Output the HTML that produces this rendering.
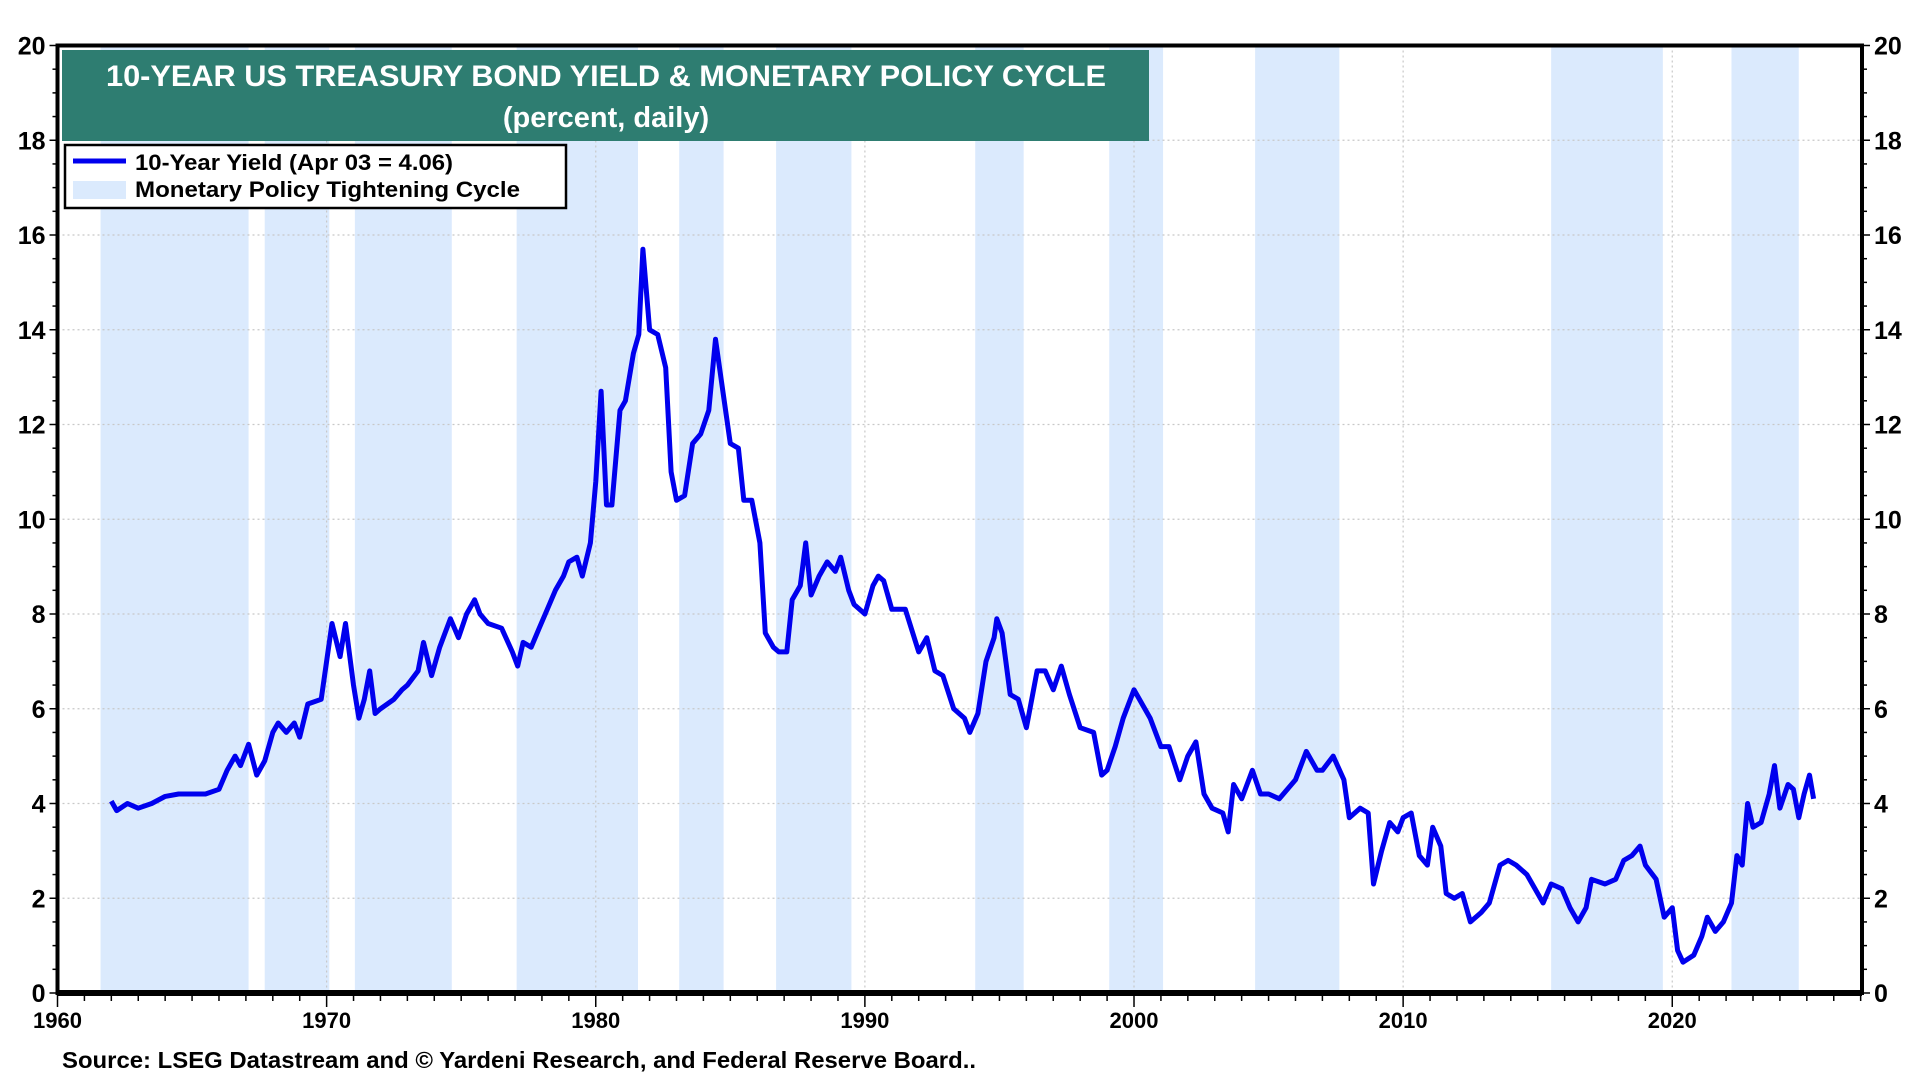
<!DOCTYPE html>
<html><head><meta charset="utf-8"><style>
html,body{margin:0;padding:0;background:#fff;}
svg{display:block;font-family:"Liberation Sans",Arial,sans-serif;font-weight:bold;}
</style></head><body>
<svg id="chart" width="1920" height="1080" viewBox="0 0 1920 1080"></svg>
<script>
const yTicks=[0,2,4,6,8,10,12,14,16,18,20];
const xTicks=[1960,1970,1980,1990,2000,2010,2020];
const bandStart=[1961.6,1967.7,1971.05,1977.06,1983.1,1986.7,1994.1,1999.08,2004.5,2015.5,2022.2];
const bandEnd=[1967.1,1970.1,1974.65,1981.57,1984.75,1989.5,1995.9,2001.08,2007.63,2019.65,2024.7];
const years=[1962.0,1962.2,1962.6,1963,1963.5,1964,1964.5,1965,1965.5,1966,1966.3,1966.6,1966.8,1967.1,1967.4,1967.7,1968,1968.2,1968.5,1968.8,1969,1969.3,1969.8,1970.0,1970.2,1970.5,1970.7,1971.0,1971.2,1971.4,1971.6,1971.8,1972,1972.5,1972.8,1973.0,1973.4,1973.6,1973.9,1974.2,1974.6,1974.9,1975.2,1975.5,1975.7,1976,1976.5,1976.9,1977.1,1977.3,1977.6,1977.9,1978.2,1978.5,1978.8,1979,1979.3,1979.5,1979.8,1980.0,1980.2,1980.4,1980.6,1980.9,1981.1,1981.4,1981.6,1981.75,1982.0,1982.3,1982.6,1982.8,1983.0,1983.3,1983.6,1983.9,1984.2,1984.45,1984.7,1985.0,1985.3,1985.5,1985.8,1986.1,1986.3,1986.6,1986.8,1987.1,1987.3,1987.6,1987.8,1988.0,1988.3,1988.6,1988.9,1989.1,1989.4,1989.6,1990.0,1990.3,1990.5,1990.7,1991.0,1991.5,1992.0,1992.3,1992.6,1992.9,1993.3,1993.7,1993.9,1994.2,1994.5,1994.8,1994.9,1995.1,1995.4,1995.7,1996.0,1996.4,1996.7,1997.0,1997.3,1997.6,1998.0,1998.5,1998.8,1999.0,1999.3,1999.6,2000.0,2000.3,2000.6,2001.0,2001.3,2001.7,2002.0,2002.3,2002.6,2002.9,2003.3,2003.5,2003.7,2004.0,2004.4,2004.7,2005.0,2005.4,2005.7,2006.0,2006.4,2006.8,2007.0,2007.4,2007.8,2008.0,2008.4,2008.7,2008.9,2009.2,2009.5,2009.8,2010.0,2010.3,2010.6,2010.9,2011.1,2011.4,2011.6,2011.9,2012.2,2012.5,2012.9,2013.2,2013.6,2013.9,2014.2,2014.6,2014.9,2015.2,2015.5,2015.9,2016.2,2016.5,2016.8,2017.0,2017.5,2017.9,2018.2,2018.5,2018.8,2019.0,2019.4,2019.7,2020.0,2020.2,2020.4,2020.8,2021.1,2021.3,2021.6,2021.9,2022.2,2022.4,2022.6,2022.8,2023.0,2023.3,2023.6,2023.8,2024.0,2024.3,2024.5,2024.7,2024.9,2025.1,2025.25];
const yields=[4.05,3.85,4.0,3.9,4.0,4.15,4.2,4.2,4.2,4.3,4.7,5.0,4.8,5.25,4.6,4.9,5.5,5.7,5.5,5.7,5.4,6.1,6.2,7.0,7.8,7.1,7.8,6.5,5.8,6.2,6.8,5.9,6.0,6.2,6.4,6.5,6.8,7.4,6.7,7.3,7.9,7.5,8.0,8.3,8.0,7.8,7.7,7.2,6.9,7.4,7.3,7.7,8.1,8.5,8.8,9.1,9.2,8.8,9.5,10.8,12.7,10.3,10.3,12.3,12.5,13.5,13.9,15.7,14.0,13.9,13.2,11.0,10.4,10.5,11.6,11.8,12.3,13.8,12.8,11.6,11.5,10.4,10.4,9.5,7.6,7.3,7.2,7.2,8.3,8.6,9.5,8.4,8.8,9.1,8.9,9.2,8.5,8.2,8.0,8.6,8.8,8.7,8.1,8.1,7.2,7.5,6.8,6.7,6.0,5.8,5.5,5.9,7.0,7.5,7.9,7.6,6.3,6.2,5.6,6.8,6.8,6.4,6.9,6.3,5.6,5.5,4.6,4.7,5.2,5.8,6.4,6.1,5.8,5.2,5.2,4.5,5.0,5.3,4.2,3.9,3.8,3.4,4.4,4.1,4.7,4.2,4.2,4.1,4.3,4.5,5.1,4.7,4.7,5.0,4.5,3.7,3.9,3.8,2.3,3.0,3.6,3.4,3.7,3.8,2.9,2.7,3.5,3.1,2.1,2.0,2.1,1.5,1.7,1.9,2.7,2.8,2.7,2.5,2.2,1.9,2.3,2.2,1.8,1.5,1.8,2.4,2.3,2.4,2.8,2.9,3.1,2.7,2.4,1.6,1.8,0.9,0.65,0.8,1.2,1.6,1.3,1.5,1.9,2.9,2.7,4.0,3.5,3.6,4.2,4.8,3.9,4.4,4.3,3.7,4.2,4.6,4.1];

const L=57.5,R=1862,T=45.5,B=993,X0=1960,X1=2027.05;
const xs=v=>L+(v-X0)/(X1-X0)*(R-L);
const ys=v=>B-v/20*(B-T);
const NS="http://www.w3.org/2000/svg";
const svg=document.getElementById('chart');
function mk(tag,attrs,parent){const e=document.createElementNS(NS,tag);for(const k in attrs)e.setAttribute(k,attrs[k]);(parent||svg).appendChild(e);return e;}

const gB=mk('g',{});


bandStart.forEach((s,i)=>{
  const r=mk('rect',{x:xs(s),y:T,width:xs(bandEnd[i])-xs(s),height:B-T,fill:'#dbeafd'},gB);
  
  
});
const gG=mk('g',{stroke:'#c8c8c8','stroke-width':1.2,'stroke-dasharray':'2,3'});


yTicks.forEach(v=>{if(v>0&&v<20)mk('line',{x1:L,x2:R,y1:ys(v),y2:ys(v)},gG);});
xTicks.forEach(v=>{if(v>1960)mk('line',{x1:xs(v),x2:xs(v),y1:T,y2:B},gG);});

let d='';years.forEach((y,i)=>{d+=(i?'L':'M')+xs(y).toFixed(1)+','+ys(yields[i]).toFixed(1);});
const line=mk('path',{d:d,fill:'none',stroke:'#0000ee','stroke-width':5,'stroke-linejoin':'round'});



const fr=mk('rect',{x:L,y:T,width:R-L,height:B-T,fill:'none',stroke:'#000','stroke-width':4});


mk('line',{x1:L,x2:R,y1:B,y2:B,stroke:'#000','stroke-width':6});

const gY=mk('g',{'font-size':25,fill:'#000'});


for(let v=0;v<=20;v+=0.5){
  const len=(v%2===0)?8:5;
  mk('line',{x1:L-len,x2:L,y1:ys(v),y2:ys(v),stroke:'#000','stroke-width':1.5},gY);
  mk('line',{x1:R,x2:R+len,y1:ys(v),y2:ys(v),stroke:'#000','stroke-width':1.5},gY);
}
yTicks.forEach(v=>{
  const a=mk('text',{x:L-12,y:ys(v)+9,'text-anchor':'end'},gY);a.textContent=v;
  
  
  const b=mk('text',{x:R+12,y:ys(v)+9,'text-anchor':'start'},gY);b.textContent=v;
  
  
});
const gX=mk('g',{'font-size':22,fill:'#000'});


for(let v=1960;v<=2027;v++){
  const len=(v%10===0)?14:8;
  mk('line',{x1:xs(v),x2:xs(v),y1:B,y2:B+len,stroke:'#000','stroke-width':1.5},gX);
}
xTicks.forEach(v=>{
  const t=mk('text',{x:xs(v),y:B+35,'text-anchor':'middle'},gX);t.textContent=v;
  
  
});
</script>
<script>
(function(){
const svg=document.getElementById('chart');const NS="http://www.w3.org/2000/svg";
function mk(tag,attrs,parent){const e=document.createElementNS(NS,tag);for(const k in attrs)e.setAttribute(k,attrs[k]);(parent||svg).appendChild(e);return e;}
const tb=mk('rect',{x:62,y:50,width:1087,height:91,fill:'#2e7d71'});


const t1=mk('text',{x:606,y:86,'text-anchor':'middle','font-size':30,fill:'#fff',textLength:1000,lengthAdjust:'spacingAndGlyphs'});
t1.textContent='10-YEAR US TREASURY BOND YIELD & MONETARY POLICY CYCLE';


const t2=mk('text',{x:606,y:127,'text-anchor':'middle','font-size':29,fill:'#fff'});
t2.textContent='(percent, daily)';


const lg=mk('g',{});


mk('rect',{x:65,y:145,width:501,height:63,fill:'#fff',stroke:'#000','stroke-width':2.5},lg);
mk('line',{x1:73,x2:126,y1:161,y2:161,stroke:'#0000ee','stroke-width':5},lg);
mk('rect',{x:73,y:181,width:53,height:18,fill:'#dbeafd'},lg);
const l1=mk('text',{x:135,y:170,'font-size':22,fill:'#000',textLength:318,lengthAdjust:'spacingAndGlyphs'},lg);
l1.textContent='10-Year Yield (Apr 03 = 4.06)';


const l2=mk('text',{x:135,y:197,'font-size':22,fill:'#000',textLength:385,lengthAdjust:'spacingAndGlyphs'},lg);
l2.textContent='Monetary Policy Tightening Cycle';


const s=mk('text',{x:62,y:1068,'font-size':23,fill:'#000',textLength:914,lengthAdjust:'spacingAndGlyphs'});
s.textContent='Source: LSEG Datastream and © Yardeni Research, and Federal Reserve Board..';


})();
</script>
</body></html>
